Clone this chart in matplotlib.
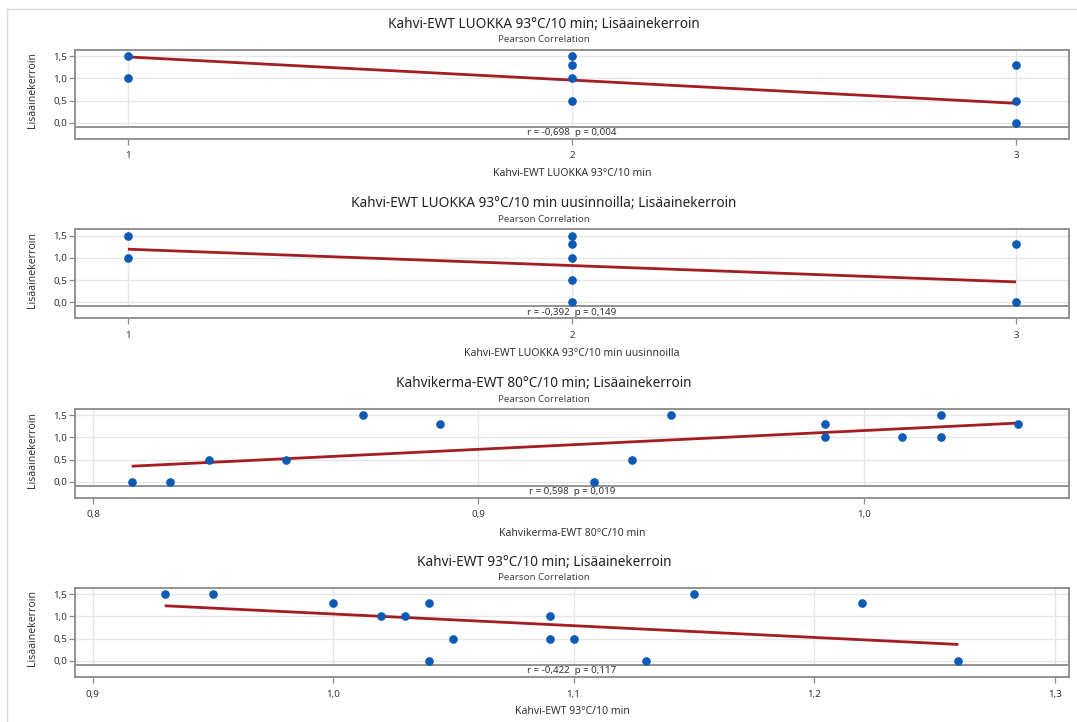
import numpy as np
import matplotlib
matplotlib.use("Agg")
import matplotlib.pyplot as plt
from matplotlib.lines import Line2D

plt.rcParams['font.family'] = ['Noto Sans', 'DejaVu Sans']

# ---------------- data ----------------
titles = [
    "Kahvi-EWT LUOKKA 93°C/10 min; Lisäainekerroin",
    "Kahvi-EWT LUOKKA 93°C/10 min uusinnoilla; Lisäainekerroin",
    "Kahvikerma-EWT 80°C/10 min; Lisäainekerroin",
    "Kahvi-EWT 93°C/10 min; Lisäainekerroin",
]
subtitle = "Pearson Correlation"
xlabels = [
    "Kahvi-EWT LUOKKA 93°C/10 min",
    "Kahvi-EWT LUOKKA 93°C/10 min uusinnoilla",
    "Kahvikerma-EWT 80°C/10 min",
    "Kahvi-EWT 93°C/10 min",
]
ylabel = "Lisäainekerroin"
stats = [
    "r = -0,698  p = 0,004",
    "r = -0,392  p = 0,149",
    "r = 0,598  p = 0,019",
    "r = -0,422  p = 0,117",
]

x1 = [1, 1, 1, 1, 1, 2, 2, 2, 2, 2, 3, 3, 3, 3, 3]
y1 = [1.5, 1.5, 1.5, 1.5, 1.0, 1.5, 1.3, 1.3, 1.0, 0.5, 1.3, 0.5, 0.0, 0.0, 0.0]

x2 = [1, 1, 1, 2, 2, 2, 2, 2, 2, 2, 2, 2, 3, 3, 3]
y2 = [1.5, 1.0, 1.0, 1.5, 1.3, 1.3, 1.0, 1.0, 1.0, 0.5, 0.0, 0.0, 1.3, 0.0, 0.0]

x3 = [0.81, 0.82, 0.83, 0.85, 0.87, 0.89, 0.93, 0.94, 0.95, 0.99, 0.99, 1.01, 1.02, 1.02, 1.04]
y3 = [0.0, 0.0, 0.5, 0.5, 1.5, 1.3, 0.0, 0.5, 1.5, 1.3, 1.0, 1.0, 1.5, 1.0, 1.3]

x4 = [0.93, 0.95, 1.00, 1.02, 1.03, 1.04, 1.04, 1.05, 1.09, 1.09, 1.10, 1.13, 1.15, 1.22, 1.26]
y4 = [1.5, 1.5, 1.3, 1.0, 1.0, 1.3, 0.0, 0.5, 1.0, 0.5, 0.5, 0.0, 1.5, 1.3, 0.0]

yticks = [0.0, 0.5, 1.0, 1.5]
ytick_labels = ["0,0", "0,5", "1,0", "1,5"]
xticks_a = [1, 2, 3]
xtick_labels_a = ["1", "2", "3"]
xticks_c = [0.8, 0.9, 1.0]
xtick_labels_c = ["0,8", "0,9", "1,0"]
xticks_d = [0.9, 1.0, 1.1, 1.2, 1.3]
xtick_labels_d = ["0,9", "1,0", "1,1", "1,2", "1,3"]

panels = [
    (x1, y1, xticks_a, xtick_labels_a, (0.881, 3.119)),
    (x2, y2, xticks_a, xtick_labels_a, (0.881, 3.119)),
    (x3, y3, xticks_c, xtick_labels_c, (0.7953, 1.0533)),
    (x4, y4, xticks_d, xtick_labels_d, (0.8927, 1.306)),
]

# ---------------- layout ----------------
W, H = 1077, 722
fig = plt.figure(figsize=(W / 100, H / 100), dpi=100)
fig.patch.set_facecolor("white")

# outer light frame
fig.add_artist(Line2D([7 / W, 1.0], [1 - 9 / H, 1 - 9 / H], color="#d9d9d9", lw=1.0))
fig.add_artist(Line2D([7 / W, 7 / W], [0.0, 1 - 9 / H], color="#d9d9d9", lw=1.0))

ax_left, ax_right = 75, 1069
tops = [50, 229.5, 409, 588]
ax_h = 89
ymin, ymax, ydiv = -0.36, 1.635, -0.09

pt_color = "#0D5AB4"
line_color = "#A31D22"
frame_color = "#8a8a8a"
text_color = "#333333"

for i, (xs, ys, xt, xtl, xl) in enumerate(panels):
    top = tops[i]
    bottom = top + ax_h
    ax = fig.add_axes([ax_left / W, 1 - bottom / H, (ax_right - ax_left) / W, ax_h / H])
    ax.set_xlim(*xl)
    ax.set_ylim(ymin, ymax)
    ax.set_axisbelow(True)
    ax.grid(True, color="#e6e6e6", lw=1.0)
    ax.axhspan(ymin, ydiv, color="white", zorder=1)
    ax.axhline(ydiv, color=frame_color, lw=1.3, zorder=2)

    xs_a = np.asarray(xs, dtype=float)
    ys_a = np.asarray(ys, dtype=float)
    coef = np.polyfit(xs_a, ys_a, 1)
    xfit = np.array([xs_a.min(), xs_a.max()])
    ax.plot(xfit, np.polyval(coef, xfit), color=line_color, lw=2.0, zorder=3,
            solid_capstyle="butt")
    pts = np.unique(np.column_stack([xs_a, ys_a]), axis=0)
    ax.plot(pts[:, 0], pts[:, 1], "o", color=pt_color, ms=5.2, mec=pt_color, zorder=4)

    ax.set_xticks(xt)
    ax.set_xticklabels(xtl)
    ax.set_yticks(yticks)
    ax.set_yticklabels(ytick_labels)
    ax.tick_params(axis="both", direction="out", length=4, width=0.9,
                   color=frame_color, labelsize=7, labelcolor=text_color)
    ax.tick_params(axis="x", pad=5)
    ax.tick_params(axis="y", pad=1.5)
    for s in ax.spines.values():
        s.set_color(frame_color)
        s.set_linewidth(1.3)

    ax.text((xl[0] + xl[1]) / 2, (ymin + ydiv) / 2, stats[i], ha="center", va="center",
            fontsize=7, color=text_color, zorder=5)

    cx = (ax_left + ax_right) / 2
    fig.text(544 / W, 1 - (top - 26) / H, titles[i], ha="center", va="center",
             fontsize=9.8, color="#222222")
    fig.text(544 / W, 1 - (top - 10) / H, subtitle, ha="center", va="center",
             fontsize=7, color="#444444")
    fig.text(cx / W, 1 - (bottom + 35) / H, xlabels[i], ha="center", va="center",
             fontsize=7.5, color=text_color)
    fig.text(32 / W, 1 - (top + ax_h / 2 - 4) / H, ylabel, ha="center", va="center",
             rotation=90, fontsize=7.5, color=text_color)

fig.savefig("out.png", dpi=100, facecolor="white")
